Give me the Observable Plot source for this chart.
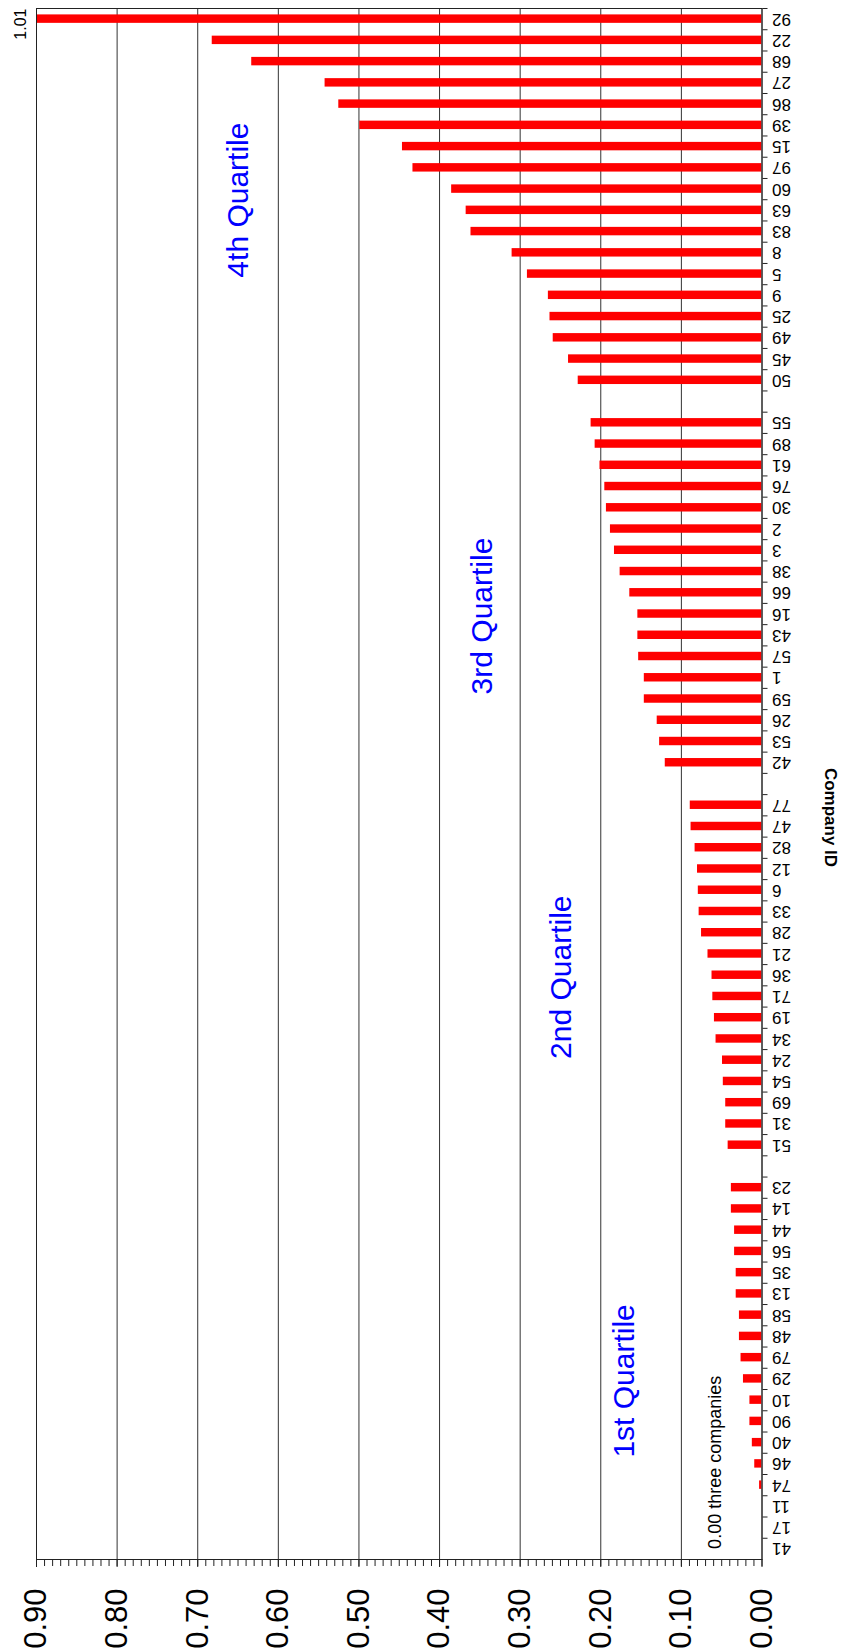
<!DOCTYPE html>
<html>
<head>
<meta charset="utf-8">
<script src="https://cdn.jsdelivr.net/npm/d3@7"></script>
<script src="https://cdn.jsdelivr.net/npm/@observablehq/plot@0.6"></script>
<style>
  html, body { margin: 0; padding: 0; background: white; overflow: hidden; }
  #chart svg { display: block; }
</style>
</head>
<body>
<div id="chart"></div>
<script>
// Company IDs by quartile (top to bottom as drawn)
const q4Ids = ["92","22","68","27","86","39","15","97","60","63","83","8","5","9","25","49","45","50"];
const q4Values = [1.01,0.682,0.633,0.542,0.525,0.499,0.446,0.433,0.385,0.367,0.361,0.310,0.291,0.265,0.263,0.259,0.240,0.228];
const q3Ids = ["55","89","61","76","30","2","3","38","66","16","43","57","1","59","26","53","42"];
const q3Values = [0.212,0.207,0.201,0.195,0.193,0.188,0.183,0.176,0.164,0.154,0.154,0.153,0.146,0.146,0.130,0.127,0.120];
const q2Ids = ["77","47","82","12","6","33","28","21","36","71","19","34","24","54","69","31","51"];
const q2Values = [0.089,0.088,0.083,0.080,0.079,0.078,0.075,0.067,0.062,0.061,0.059,0.057,0.049,0.048,0.045,0.045,0.042];
const q1Ids = ["23","14","44","56","35","13","58","48","79","29","10","90","40","46","74","11","17","41"];
const q1Values = [0.038,0.038,0.034,0.034,0.032,0.032,0.028,0.028,0.026,0.023,0.015,0.015,0.012,0.009,0.003,0,0,0];

const majorTicks = [0,0.1,0.2,0.3,0.4,0.5,0.6,0.7,0.8,0.9];
const minorTicks = d3.range(0, 91).map(i => i / 100);

const quartileLabels = [
  {text: "4th Quartile", x: 0.65, id: "60", shift: 11},
  {text: "3rd Quartile", x: 0.347, id: "16", shift: 2},
  {text: "2nd Quartile", x: 0.249, id: "36", shift: 2},
  {text: "1st Quartile", x: 0.171, id: "29", shift: 2}
];
const noteText = "0.00 three companies";
const topValueLabel = "1.01";

// build table
const rows = [];
[[q4Ids,q4Values],[q3Ids,q3Values],[q2Ids,q2Values],[q1Ids,q1Values]].forEach(([ids, vals]) => {
  ids.forEach((id, i) => rows.push({id, value: vals[i]}));
});
const slots = [...q4Ids, "gap-a", ...q3Ids, "gap-b", ...q2Ids, "gap-c", ...q1Ids];

const W = 855, H = 1652, mt = 8, mb = 93, ml = 36, mr = 93.5;
const step = (H - mt - mb) / slots.length;
const font = "'Liberation Sans', Arial, Helvetica, sans-serif";

const quartileMarks = quartileLabels.map(q =>
  Plot.text([q], {x: "x", y: "id", text: "text", dy: q.shift, rotate: -90,
    textAnchor: "middle", lineAnchor: "middle", fontSize: 30, fill: "#0000ff"})
);

const chart = Plot.plot({
  width: W, height: H,
  marginTop: mt, marginBottom: mb, marginLeft: ml, marginRight: mr,
  style: {fontFamily: font, background: "white", color: "black", overflow: "visible"},
  x: {domain: [0, 0.9], reverse: true},
  y: {domain: slots, padding: 0, round: false},
  marks: [
    Plot.gridX({ticks: majorTicks, stroke: "#333", strokeOpacity: 1, strokeWidth: 1}),
    Plot.barX(rows, {x: "value", y: "id", fill: "#ff0000", insetTop: 6.4, insetBottom: 6.4, clip: true}),
    Plot.frame({stroke: "#222", strokeWidth: 1}),
    Plot.axisX({ticks: minorTicks, tickSize: 7, text: null, label: null, stroke: "#222"}),
    Plot.axisX({ticks: majorTicks, tickSize: 8, text: null, label: null, stroke: "#222"}),
    Plot.text(majorTicks, {x: d => d, frameAnchor: "bottom", dy: 29, text: d3.format(".2f"),
      rotate: -90, textAnchor: "end", lineAnchor: "middle", fontSize: 31, fill: "black"}),
    Plot.axisY({anchor: "right", tickSize: 5, text: null, label: null, dy: -step / 2, stroke: "#222"}),
    Plot.axisY({anchor: "right", tickSize: 0, tickPadding: 10, label: null,
      tickFormat: d => d.startsWith("gap") ? "" : d,
      rotate: 180, textAnchor: "end", lineAnchor: "middle", fontSize: 17}),
    ...quartileMarks,
    Plot.text([noteText], {x: () => 0.058, y: () => "41", text: d => d, rotate: -90,
      textAnchor: "start", lineAnchor: "middle", fontSize: 18, fill: "black"}),
    Plot.text([topValueLabel], {frameAnchor: "left", y: () => "92", text: d => d, dx: -16, dy: 5,
      rotate: -90, textAnchor: "middle", lineAnchor: "middle", fontSize: 16, fill: "black"}),
    Plot.text(["Company ID"], {frameAnchor: "right", text: d => d, dx: 68.5, dy: 33.5, rotate: 90,
      textAnchor: "middle", lineAnchor: "middle", fontSize: 17, fontWeight: "bold", fill: "black"})
  ]
});
document.getElementById("chart").appendChild(chart);
</script>
</body>
</html>
